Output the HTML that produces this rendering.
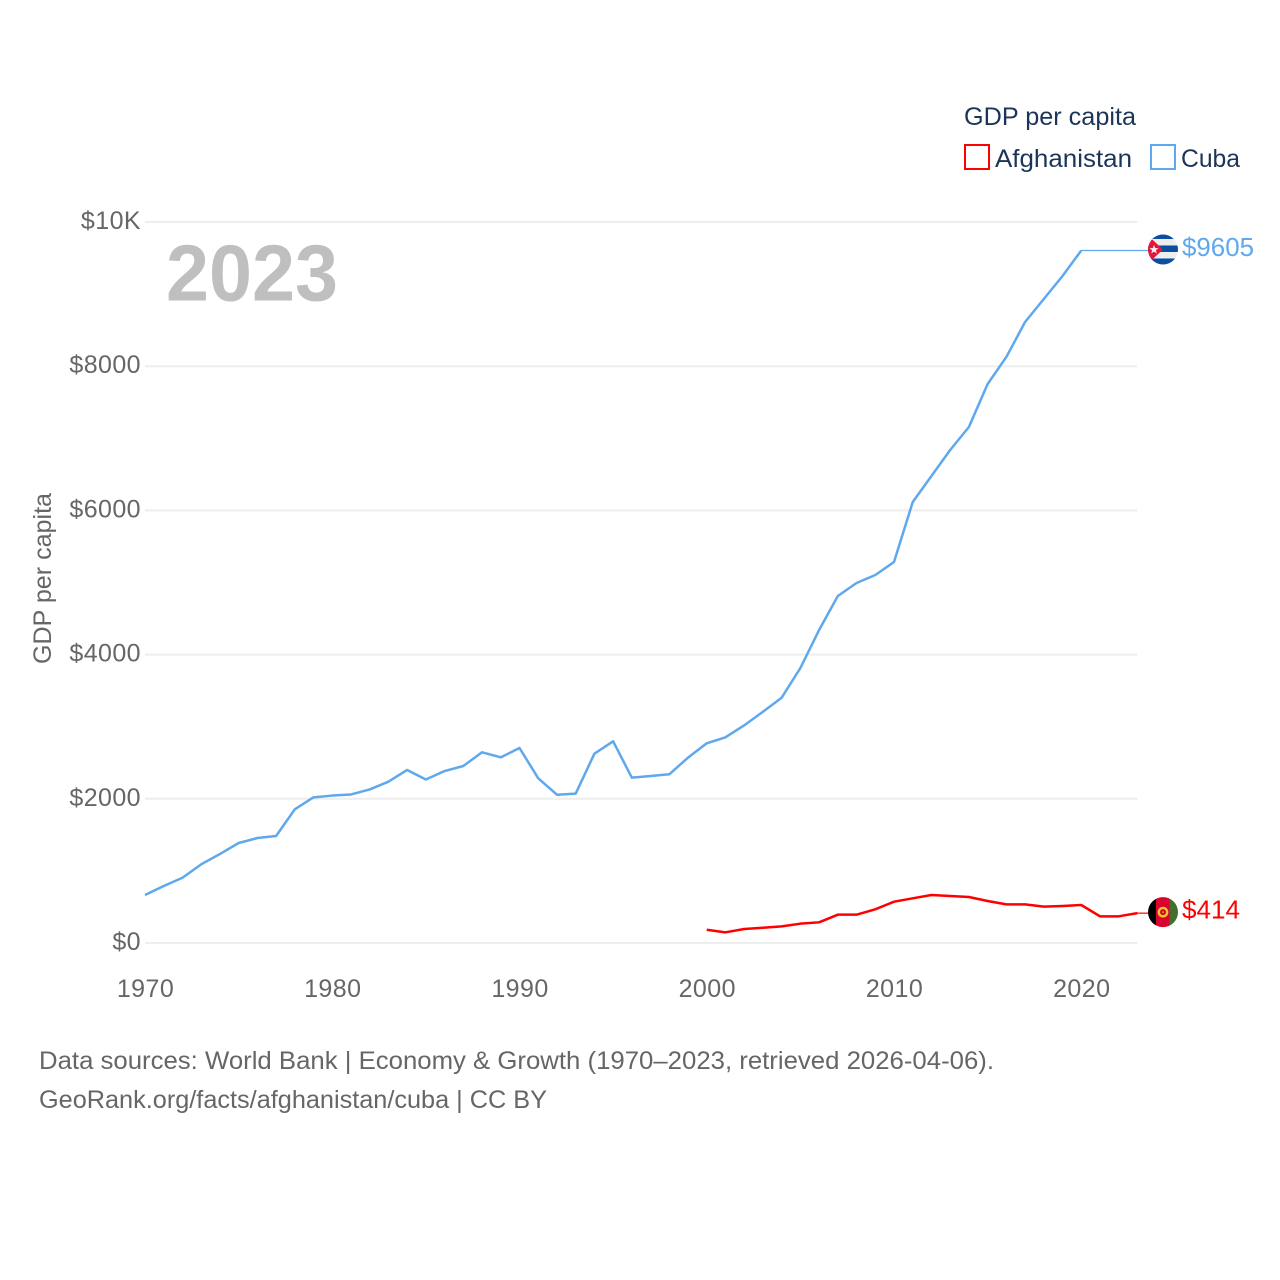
<!DOCTYPE html>
<html lang="en">
<head>
<meta charset="utf-8">
<title>GDP per capita: Afghanistan and Cuba</title>
<style>
html,body{margin:0;padding:0;background:#fff}
svg{display:block}
text{font-family:"Liberation Sans",sans-serif}
.tick{font-size:25px;fill:#666;letter-spacing:.42px}
.foot{font-size:25px;fill:#666}
.leg{font-size:25px;fill:#1b3558}
</style>
</head>
<body>
<svg id="chart" xmlns="http://www.w3.org/2000/svg" width="1280" height="1280" viewBox="0 0 1280 1280">
  <defs>
    <clipPath id="flag-clip"><circle cx="0" cy="0" r="15"/></clipPath>
  </defs>
  <g id="grid"></g>
  <g id="y-axis"></g>
  <g id="x-axis"></g>
  <text x="166" y="300.5" font-size="80" font-weight="700" fill="#bfbfbf" textLength="172" lengthAdjust="spacingAndGlyphs">2023</text>
  <text transform="translate(51,664) rotate(-90)" font-size="25" fill="#666" textLength="171" lengthAdjust="spacingAndGlyphs">GDP per capita</text>
  <g id="series"></g>

  <g id="flag-cuba">
    <g clip-path="url(#flag-clip)">
      <rect x="-16" y="-16" width="32" height="32" fill="#eeeeee"/>
      <rect x="-16" y="-16" width="32" height="5.5" fill="#0a4ea2"/>
      <rect x="-16" y="-4" width="32" height="6.5" fill="#0a4ea2"/>
      <rect x="-16" y="9" width="32" height="7" fill="#0a4ea2"/>
      <polygon points="-15,-14 0,0 -15,14" fill="#e3183a"/>
      <polygon points="-9,-4.5 -7.8,-1.3 -4.5,-1.3 -7.1,0.8 -6.2,4 -9,2.1 -11.8,4 -10.9,0.8 -13.5,-1.3 -10.2,-1.3" fill="#f2f2f2"/>
    </g>
  </g>
  <g id="flag-afghanistan">
    <g clip-path="url(#flag-clip)">
      <rect x="-16" y="-16" width="9" height="32" fill="#000"/>
      <rect x="-7" y="-16" width="13.5" height="32" fill="#d8042d"/>
      <rect x="6.5" y="-16" width="10" height="32" fill="#44702f"/>
      <circle cx="0" cy="0" r="4.2" fill="none" stroke="#f2c230" stroke-width="2.4"/>
      <circle cx="0" cy="0" r="1" fill="#e0892a"/>
    </g>
  </g>
  <g id="end-labels"></g>

  <g>
    <text class="leg" x="964" y="125" textLength="172" lengthAdjust="spacingAndGlyphs">GDP per capita</text>
    <rect x="965" y="145" width="24" height="24" fill="#fff" stroke="#ff0000" stroke-width="2"/>
    <text class="leg" x="995" y="167" textLength="137" lengthAdjust="spacingAndGlyphs">Afghanistan</text>
    <rect x="1151" y="145" width="24" height="24" fill="#fff" stroke="#5fa8ee" stroke-width="2"/>
    <text class="leg" x="1181" y="167" textLength="59" lengthAdjust="spacingAndGlyphs">Cuba</text>
  </g>

  <text class="foot" x="39" y="1069" textLength="955" lengthAdjust="spacingAndGlyphs">Data sources: World Bank | Economy &amp; Growth (1970–2023, retrieved 2026-04-06).</text>
  <text class="foot" x="39" y="1108" textLength="508" lengthAdjust="spacingAndGlyphs">GeoRank.org/facts/afghanistan/cuba | CC BY</text>
</svg>
<script>
const xTickYears = [1970, 1980, 1990, 2000, 2010, 2020];
const yTickValues = [0, 2000, 4000, 6000, 8000, 10000];
const yTickLabels = ['$0', '$2000', '$4000', '$6000', '$8000', '$10K'];
const cubaStartYear = 1970;
const cubaValues = [666, 790, 905, 1091, 1234, 1387, 1456, 1484, 1854, 2020, 2045, 2060, 2130, 2237, 2400, 2268, 2385, 2455, 2645, 2575, 2705, 2284, 2057, 2071, 2626, 2797, 2293, 2316, 2340, 2571, 2770, 2853, 3019, 3208, 3402, 3814, 4341, 4813, 4993, 5104, 5284, 6116, 6477, 6838, 7157, 7753, 8128, 8613, 8932, 9251, 9605];
const afghanistanStartYear = 2000;
const afghanistanValues = [184, 148, 194, 212, 231, 268, 287, 393, 393, 467, 573, 620, 666, 652, 638, 583, 536, 536, 504, 513, 527, 370, 370, 414];

const NS = 'http://www.w3.org/2000/svg';
const xScale = year => 145 + (year - 1970) * 18.725;
const yScale = value => 943 - value * 0.0721;
const FLAG_X = 1163;
const PLOT_RIGHT = xScale(2023);

function make(tag, attrs, parent, content) {
  const el = document.createElementNS(NS, tag);
  for (const key in attrs) el.setAttribute(key, attrs[key]);
  if (content !== undefined) el.textContent = content;
  parent.appendChild(el);
  return el;
}
function linePoints(start, values) {
  return values.map((v, i) => xScale(start + i).toFixed(2) + ',' + yScale(v).toFixed(2)).join(' ');
}

const grid = document.getElementById('grid');
const yAxis = document.getElementById('y-axis');
const xAxis = document.getElementById('x-axis');
const series = document.getElementById('series');
const endLabels = document.getElementById('end-labels');

yTickValues.forEach((value, i) => {
  const line = make('line', {x1: 145, x2: PLOT_RIGHT, y1: yScale(value), y2: yScale(value), stroke: '#eeeeee', 'stroke-width': 2}, grid);
  
  
  const label = make('text', {class: 'tick', x: 141, y: yScale(value) + 7, 'text-anchor': 'end'}, yAxis, yTickLabels[i]);
  
  
});

xTickYears.forEach(year => {
  const label = make('text', {class: 'tick', x: xScale(year) + 0.5, y: 997, 'text-anchor': 'middle'}, xAxis, String(year));
  
  
});

function drawSeries(key, color, start, values, labelWidth) {
  const last = values[values.length - 1];
  const lastYear = start + values.length - 1;
  const connector = make('line', {x1: xScale(lastYear), x2: FLAG_X - 14, y1: yScale(last), y2: yScale(last), stroke: color, 'stroke-width': 1.2}, series);
  
  
  const path = make('polyline', {points: linePoints(start, values), fill: 'none', stroke: color, 'stroke-width': 2.5, 'stroke-linejoin': 'round'}, series);
  
  
  document.getElementById('flag-' + key).setAttribute('transform', 'translate(' + FLAG_X + ',' + (yScale(last) - 1).toFixed(2) + ')');
  const label = make('text', {x: 1182, y: yScale(last) + 5.5, 'font-size': 25.5, fill: color, textLength: labelWidth, lengthAdjust: 'spacingAndGlyphs'}, endLabels, '$' + last);
  
  
}

drawSeries('cuba', '#5fa8ee', cubaStartYear, cubaValues, 72);
drawSeries('afghanistan', '#ff0000', afghanistanStartYear, afghanistanValues, 58);
</script>
</body>
</html>
